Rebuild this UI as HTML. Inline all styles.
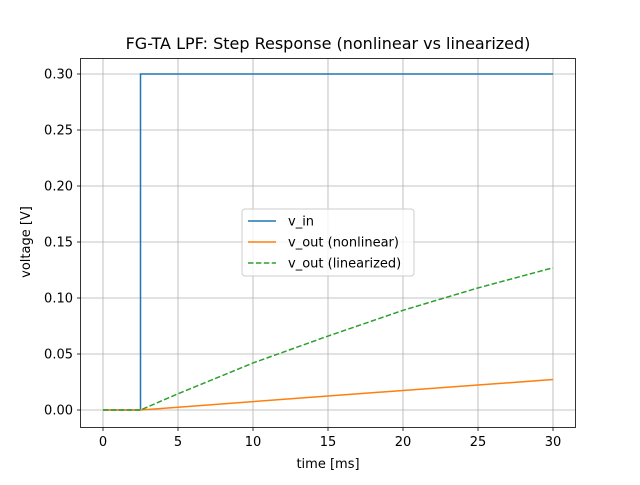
<!DOCTYPE html>
<html><head><meta charset="utf-8"><style>
body{margin:0;background:#fff;font-family:"Liberation Sans","DejaVu Sans",sans-serif}
</style></head><body>
<svg id="chart" width="640" height="480" xmlns="http://www.w3.org/2000/svg" font-family="DejaVu Sans, Liberation Sans, sans-serif">
<rect width="640" height="480" fill="#fff"/>
<text x="328" y="49" text-anchor="middle" font-size="16">FG-TA LPF: Step Response (nonlinear vs linearized)</text>
<g id="grid"></g>
<g id="series"></g>
<rect x="80.5" y="58.5" width="495" height="369" fill="none" stroke="#000" stroke-width="0.8"/>
<g id="ticks"></g>
<text x="328" y="468" text-anchor="middle" font-size="13">time [ms]</text>
<text transform="translate(30,242) rotate(-90)" text-anchor="middle" font-size="13">voltage [V]</text>
<g>
<rect x="242" y="209" width="172" height="67" rx="3" fill="#fff" fill-opacity="0.8" stroke="#ccc"/>
<line x1="248" y1="221" x2="276" y2="221" stroke="#1f77b4" stroke-width="1.5"/>
<text x="288" y="225.5" font-size="13">v_in</text>
<line x1="248" y1="242" x2="276" y2="242" stroke="#ff7f0e" stroke-width="1.5"/>
<text x="288" y="246.5" font-size="13">v_out (nonlinear)</text>
<line x1="248" y1="263" x2="276" y2="263" stroke="#2ca02c" stroke-width="1.5" stroke-dasharray="5.5,2.4"/>
<text x="288" y="267.5" font-size="13">v_out (linearized)</text>
</g>
</svg>
<script>
const xTicks=[0,5,10,15,20,25,30];
const yTicks=[0,0.05,0.10,0.15,0.20,0.25,0.30];
const yTickLabels=["0.00","0.05","0.10","0.15","0.20","0.25","0.30"];
const tIn=[0,2.5,2.5,30];
const vIn=[0,0,0.3,0.3];
const tOut=[0,2.5,5,10,15,20,25,30];
const vNonlin=[0,0,0.0025,0.0075,0.0125,0.0174,0.0223,0.0272];
const vLin=[0,0,0.0145,0.042,0.066,0.089,0.109,0.127];
const X=t=>103+t*15, Y=v=>410-v*1120;
const NS="http://www.w3.org/2000/svg";
const grid=document.getElementById('grid'),ticks=document.getElementById('ticks'),ser=document.getElementById('series');
function mk(tag,attrs,parent){const e=document.createElementNS(NS,tag);for(const k in attrs)e.setAttribute(k,attrs[k]);parent.appendChild(e);return e;}
xTicks.forEach(t=>{const x=X(t);
const g=mk('line',{x1:x,y1:58.5,x2:x,y2:427.5,stroke:'#b0b0b0','stroke-width':0.8},grid);


mk('line',{x1:x,y1:427.5,x2:x,y2:431,stroke:'#000','stroke-width':0.8},ticks);
const l=mk('text',{x:x,y:446,'text-anchor':'middle','font-size':13},ticks);l.textContent=t;

});
yTicks.forEach((v,i)=>{const y=Y(v);
const g=mk('line',{x1:80.5,y1:y,x2:575.5,y2:y,stroke:'#b0b0b0','stroke-width':0.8},grid);


mk('line',{x1:77,y1:y,x2:80.5,y2:y,stroke:'#000','stroke-width':0.8},ticks);
const l=mk('text',{x:73,y:y+4.5,'text-anchor':'end','font-size':13},ticks);l.textContent=yTickLabels[i];

});
function line(ts,vs,color,dash,name){const p=mk('polyline',{points:ts.map((t,i)=>X(t)+','+Y(vs[i])).join(' '),fill:'none',stroke:color,'stroke-width':1.5},ser);
if(dash)p.setAttribute('stroke-dasharray',dash);

}
line(tIn,vIn,'#1f77b4',null,'v-in-line');
line(tOut,vNonlin,'#ff7f0e',null,'v-out-nonlinear-line');
line(tOut,vLin,'#2ca02c','5.5,2.4','v-out-linearized-line');
</script>
</body></html>
